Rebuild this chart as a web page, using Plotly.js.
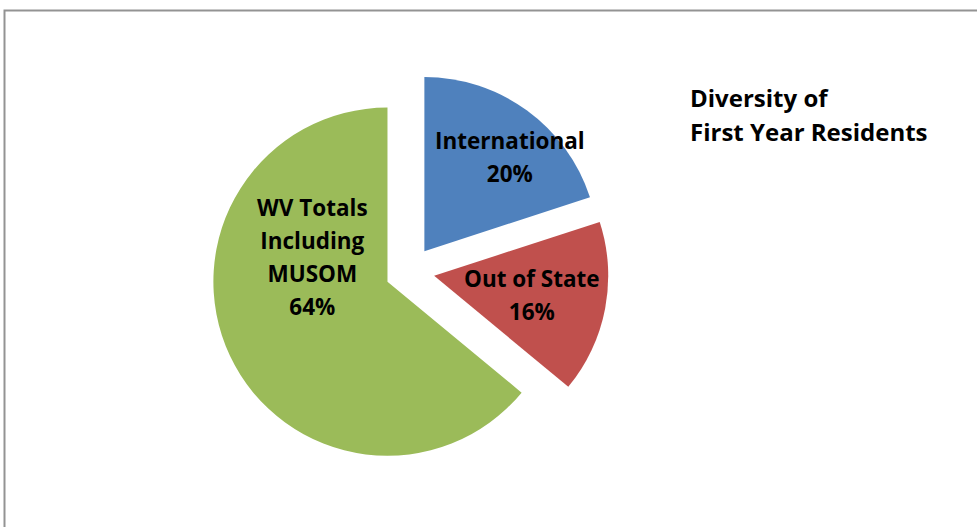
<!DOCTYPE html>
<html>
<head>
<meta charset="utf-8">
<script src="https://cdn.plot.ly/plotly-3.0.1.min.js"></script>
<style>
html,body{margin:0;padding:0;background:#fff;}
#chart{width:977px;height:527px;}
</style>
</head>
<body>
<div id="chart"></div>
<script>
// Data
const categories = ["International", "Out of State", "WV Totals Including MUSOM"];
const displayLabels = ["International", "Out of State", "WV Totals<br>Including<br>MUSOM"];
const values = [20, 16, 64];
const colors = ["#4F81BD", "#C0504D", "#9BBB59"];
const titleLines = ["Diversity of", "First Year Residents"];

// Label placements (paper coords) – layout only
const labelPos = [
  {x: 510 / 977, y: 1 - 157 / 527},
  {x: 532 / 977, y: 1 - 295 / 527},
  {x: 312 / 977, y: 1 - 257 / 527}
];

const total = values.reduce((a, b) => a + b, 0);
const pct = values.map(v => Math.round(v / total * 100) + "%");

const textSize = 22.5;
const lineFont = 25.5; // sets 1.3em line spacing ≈ 33px

const annotations = categories.map((c, i) => ({
  xref: "paper", yref: "paper",
  x: labelPos[i].x, y: labelPos[i].y,
  xanchor: "center", yanchor: "middle",
  showarrow: false,
  align: "center",
  text: (displayLabels[i] + "<br>" + pct[i]).split("<br>")
        .map(s => '<span style="font-size:' + textSize + 'px"><b>' + s + '</b></span>').join("<br>"),
  font: {family: "Open Sans, sans-serif", size: lineFont, color: "#000"}
}));

annotations.push({
  xref: "paper", yref: "paper",
  x: 688 / 977, y: 1 - 114 / 527,
  xanchor: "left", yanchor: "middle",
  showarrow: false, align: "left",
  text: titleLines.map(s => '<span style="font-size:24px"><b>' + s + '</b></span>').join("<br>"),
  font: {family: "Open Sans, sans-serif", size: 26, color: "#000"}
});

const trace = {
  type: "pie",
  labels: categories,
  values: values,
  marker: {colors: colors, line: {width: 0}},
  sort: false,
  direction: "clockwise",
  rotation: 0,
  pull: values.map(() => 0.142),
  textinfo: "none",
  hoverinfo: "label+percent",
  showlegend: false,
  domain: {x: [0.216, 0.623], y: [0.108, 0.863]}
};

const layout = {
  width: 977, height: 527,
  margin: {l: 0, r: 0, t: 0, b: 0},
  paper_bgcolor: "#fff",
  plot_bgcolor: "#fff",
  showlegend: false,
  annotations: annotations,
  shapes: [{
    type: "rect", xref: "paper", yref: "paper",
    x0: 4.5 / 977, x1: 1.05, y0: -0.05, y1: 1 - 10.5 / 527,
    line: {color: "#939393", width: 2}, fillcolor: "rgba(0,0,0,0)"
  }]
};

Plotly.newPlot("chart", [trace], layout, {displayModeBar: false, staticPlot: true});
</script>
</body>
</html>
